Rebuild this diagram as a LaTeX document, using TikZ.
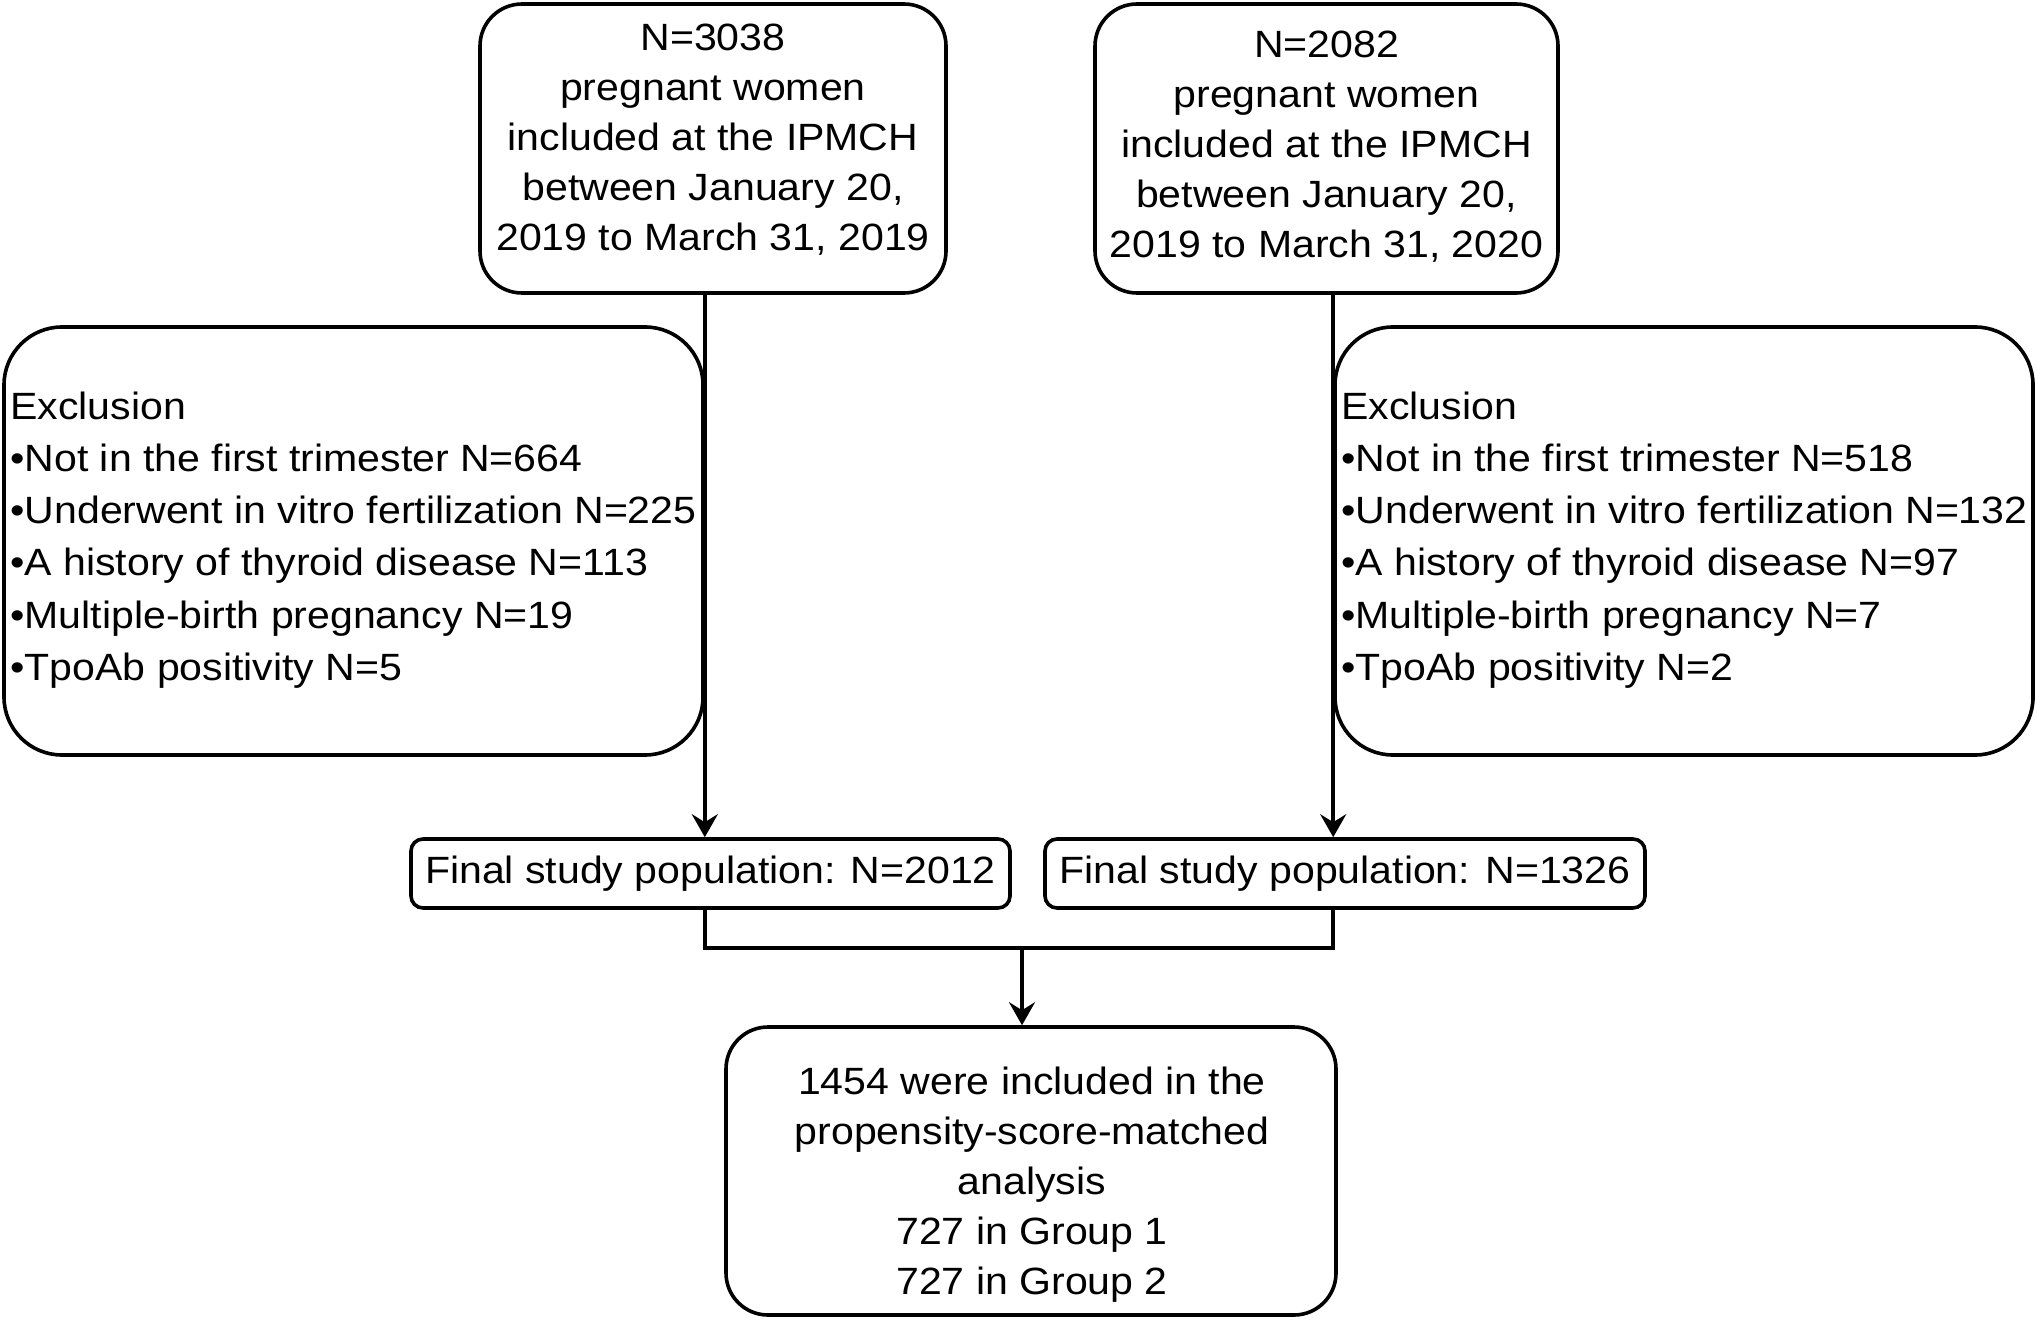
\documentclass[tikz,border=0pt]{standalone}
\usepackage{fontspec}
\setmainfont{Liberation Sans}[FakeStretch=1.08]
\usetikzlibrary{arrows.meta}
\begin{document}
\begin{tikzpicture}[x=0.5pt,y=-0.5pt,
  boxline/.style={draw=black,line width=1.8pt,fill=none,inner sep=0pt},
  bigbox/.style={boxline,rounded corners=21pt},
  exbox/.style={boxline,rounded corners=29pt},
  finbox/.style={boxline,rounded corners=6pt},
  txt/.style={inner sep=0pt,font=\fontsize{19}{25}\selectfont,text=black},
  extxt/.style={inner sep=0pt,font=\fontsize{19}{26.1}\selectfont,text=black},
  conn/.style={line width=1.8pt,draw=black},
  arr/.style={conn,-{Stealth[length=11.5pt,width=13pt,inset=4pt]}}]
\useasboundingbox (0,0) rectangle (2037,1320);
% top boxes
\node[bigbox,minimum width=233pt,minimum height=144.5pt] (top1) at (713,148.5) {};
\node[txt,align=center] (top1t) at (713,140) {N=3038\\pregnant women\\included at the IPMCH\\between January 20,\\2019 to March 31, 2019};
\node[bigbox,minimum width=231.5pt,minimum height=144.5pt] (top2) at (1326.5,148.5) {};
\node[txt,align=center] (top2t) at (1326.5,147) {N=2082\\pregnant women\\included at the IPMCH\\between January 20,\\2019 to March 31, 2020};
% exclusion boxes
\node[exbox,minimum width=349.5pt,minimum height=214pt] (ex1) at (353.5,541) {};
\node[extxt,align=left,anchor=west] (ex1t) at (10,540) {Exclusion\\
•Not in the first trimester N=664\\
•Underwent in vitro fertilization N=225\\
•A history of thyroid disease N=113\\
•Multiple-birth pregnancy N=19\\
•TpoAb positivity N=5};
\node[exbox,minimum width=349pt,minimum height=214pt] (ex2) at (1684,541) {};
\node[extxt,align=left,anchor=west] (ex2t) at (1341,540) {Exclusion\\
•Not in the first trimester N=518\\
•Underwent in vitro fertilization N=132\\
•A history of thyroid disease N=97\\
•Multiple-birth pregnancy N=7\\
•TpoAb positivity N=2};
% final boxes
\node[finbox,minimum width=299.5pt,minimum height=34.5pt] (fin1) at (710.5,873.5) {};
\node[txt] (fin1t) at (710.5,873.5) {Final study population: N=2012};
\node[finbox,minimum width=300pt,minimum height=34.5pt] (fin2) at (1345,873.5) {};
\node[txt] (fin2t) at (1345,873.5) {Final study population: N=1326};
% bottom box
\node[bigbox,minimum width=305pt,minimum height=144pt] (bot) at (1031,1171) {};
\node[txt,align=center] (bott) at (1032,1185) {1454 were included in the\\propensity-score-matched\\analysis\\727 in Group 1\\727 in Group 2};
% connectors
\draw[arr] (top1.south -| ex1.east) -- (fin1.north -| ex1.east);
\draw[arr] (top2.south -| ex2.west) -- (fin2.north -| ex2.west);
\coordinate (j) at (1022,948);
\draw[conn] (fin1.south -| ex1.east) -- (j -| ex1.east) -- (j -| ex2.west) -- (fin2.south -| ex2.west);
\draw[arr] (j) -- (j |- bot.north);
\end{tikzpicture}
\end{document}
